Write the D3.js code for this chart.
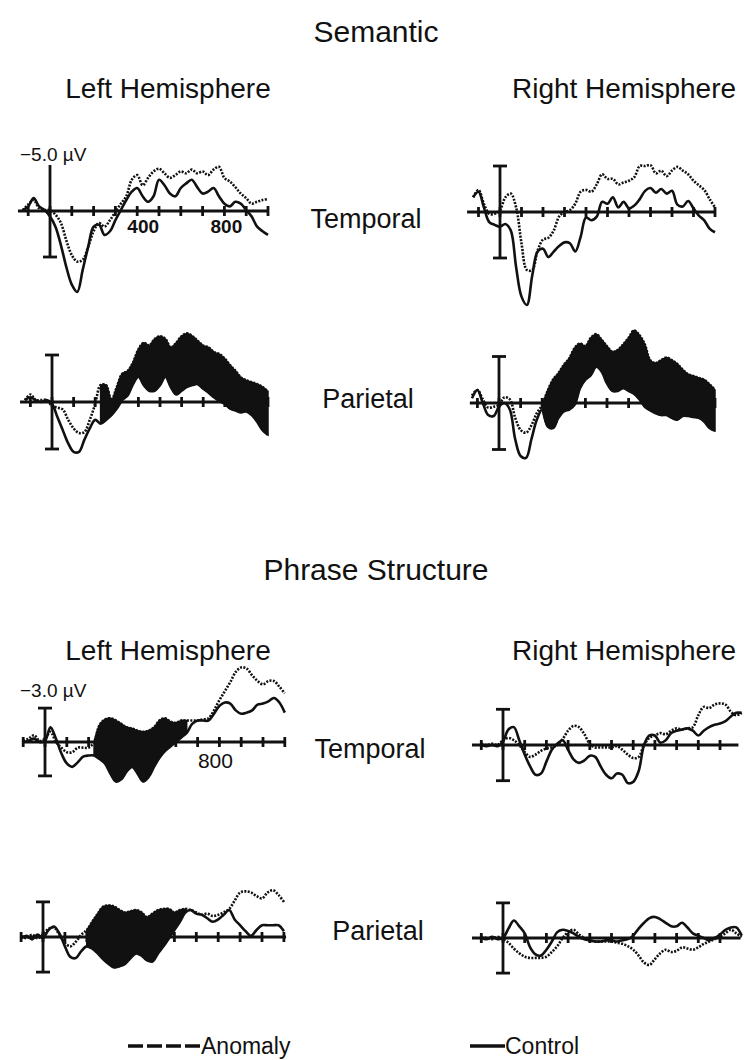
<!DOCTYPE html>
<html>
<head>
<meta charset="utf-8">
<script src="https://cdn.jsdelivr.net/npm/d3@7"></script>
<style>
  html, body { margin: 0; padding: 0; background: #fff; }
  svg { display: block; }
  text { font-family: "Liberation Sans Narrow", "Arial Narrow", "Liberation Sans", Arial, sans-serif; fill: #111; }
</style>
</head>
<body>
<svg id="chart" width="748" height="1060"></svg>
<script>
// Sample times (ms) for each experiment
const semTimes = [-125,-100,-75,-50,-25,0,25,50,75,100,125,150,175,200,225,250,275,300,325,350,375,400,425,450,475,500,525,550,575,600,625,650,675,700,725,750,775,800,825,850,875,900,925,950,975,1000];
const psTimes  = [-100,-75,-50,-25,0,25,50,75,100,125,150,175,200,225,250,275,300,325,350,375,400,425,450,475,500,525,550,575,600,625,650,675,700,725,750,775,800,825,850,875,900,925,950,975,1000,1025,1050,1075,1100];

// Semantic, left temporal (µV, negative plotted up)
const semLTempAnomaly = [-0.1,-0.7,-1.2,-0.3,-0.1,-0.1,0.4,1.3,3.2,4.8,5.5,5.3,3.9,2.2,1.3,1.7,1.0,0.1,-0.8,-1.6,-3.4,-3.9,-2.8,-3.6,-4.3,-4.6,-4.1,-3.6,-3.9,-4.3,-4.1,-4.5,-4.1,-4.3,-3.9,-4.5,-4.8,-3.6,-3.2,-2.6,-1.9,-1.4,-0.8,-1.0,-1.2,-1.3];
const semLTempControl = [-0.1,-0.5,-1.4,-0.5,-0.1,0.6,1.7,3.7,6.1,8.0,8.8,6.4,3.9,1.7,1.5,2.6,2.2,1.0,-0.1,-1.2,-2.1,-2.5,-1.6,-1.0,-1.6,-3.4,-2.8,-1.9,-1.6,-2.5,-3.0,-3.4,-2.6,-1.9,-2.1,-2.5,-1.6,-0.8,-0.5,-1.0,-0.8,-0.1,0.6,1.7,2.2,2.6];
// Semantic, right temporal
const semRTempAnomaly = [-1.6,-2.4,-0.9,0.2,0.2,-0.2,-1.6,-2.0,-0.5,3.4,6.3,6.3,4.2,3.0,2.8,2.0,0.5,0.0,-0.2,-0.9,-2.2,-2.4,-2.2,-3.0,-4.1,-3.6,-3.6,-3.0,-3.2,-3.4,-3.8,-5.0,-5.0,-5.1,-4.2,-4.5,-3.9,-4.5,-4.9,-4.5,-4.1,-3.4,-2.9,-2.4,-1.4,-0.5];
const semRTempControl = [-1.6,-2.2,-0.5,1.1,1.4,1.6,1.3,2.0,6.0,9.2,10.1,6.9,4.3,4.0,4.9,4.3,3.7,3.3,3.4,4.3,2.7,0.6,0.9,0.5,-1.1,-0.9,-1.6,-0.5,-1.1,-0.4,-0.7,-1.4,-2.3,-2.6,-2.1,-2.5,-2.0,-2.3,-0.8,-0.6,-1.2,-0.4,0.4,0.9,1.8,2.2];
// Semantic, left parietal
const semLParAnomaly = [-0.2,-0.8,-0.2,-0.2,-0.2,0.4,0.6,0.8,1.9,2.8,3.3,3.2,1.9,0.2,-1.8,-1.8,-0.2,-1.6,-3.0,-3.3,-4.2,-5.6,-6.3,-6.0,-6.7,-7.0,-6.7,-5.8,-6.3,-7.0,-7.3,-7.0,-6.5,-6.0,-5.8,-5.3,-5.1,-4.6,-3.9,-3.3,-2.6,-2.3,-2.1,-1.9,-1.6,-1.1];
const semLParControl = [-0.2,-0.5,-0.2,0.0,-0.2,0.2,1.6,3.0,4.4,5.3,5.3,4.0,2.8,1.9,2.3,1.9,1.4,0.7,-0.2,-0.7,-1.9,-2.7,-1.8,-1.2,-1.2,-1.8,-2.7,-1.6,-0.8,-1.2,-1.6,-1.8,-1.9,-1.4,-1.0,-0.5,-0.1,0.2,0.7,0.9,1.1,1.0,1.4,2.1,3.0,3.5];
// Semantic, right parietal
const semRParAnomaly = [-0.8,-1.4,-0.4,0.5,0.4,0.2,-0.6,-0.4,1.6,2.9,3.2,2.4,1.1,0.2,-1.3,-2.5,-3.2,-4.1,-4.8,-5.9,-6.4,-6.1,-7.0,-7.4,-6.8,-6.1,-5.5,-5.7,-6.3,-7.0,-7.8,-7.3,-6.3,-4.6,-4.3,-4.6,-4.9,-4.6,-4.2,-3.6,-3.1,-2.9,-2.7,-2.5,-2.0,-1.4];
const semRParControl = [-0.5,-1.4,0.0,1.3,1.4,0.4,0.0,0.7,3.9,5.7,5.9,3.9,1.8,0.7,2.5,2.7,1.6,0.9,0.7,0.2,-1.6,-2.5,-3.0,-3.9,-3.4,-2.1,-1.3,-1.3,-1.6,-1.3,-1.0,-0.4,0.4,0.8,1.1,1.3,1.3,1.6,1.8,1.4,1.4,1.5,1.6,2.0,2.7,3.0];

// Phrase structure, left temporal
const psLTempAnomaly = [-0.1,-0.3,-0.6,-0.1,-0.3,-0.9,0.0,0.5,0.9,0.9,0.5,0.5,0.5,0.0,-1.5,-2.0,-2.1,-1.9,-1.6,-1.3,-1.2,-1.0,-0.9,-1.0,-1.3,-1.9,-2.1,-1.8,-1.7,-1.9,-1.9,-1.9,-1.9,-2.0,-2.1,-2.8,-3.7,-4.5,-5.3,-6.2,-6.6,-6.5,-5.9,-5.4,-5.1,-5.4,-5.4,-4.9,-4.3];
const psLTempControl = [0.0,-0.1,-0.3,0.0,-0.1,-1.3,-0.3,1.0,1.9,2.2,1.8,1.3,1.2,1.2,1.5,1.9,2.8,3.5,3.3,2.6,2.2,2.8,3.5,3.1,2.2,1.4,0.8,0.4,0.0,-0.4,-0.8,-1.6,-1.9,-1.9,-1.9,-2.5,-3.2,-3.5,-3.4,-2.8,-2.5,-2.6,-2.8,-3.3,-3.4,-3.6,-3.9,-3.5,-2.6];
// Phrase structure, right temporal
const psRTempAnomaly = [-0.1,0.0,-0.1,0.0,-0.4,-0.6,-0.4,0.0,0.6,1.0,0.8,0.5,0.3,0.2,0.0,-0.5,-1.2,-1.6,-1.5,-0.9,-0.1,0.2,0.2,0.2,0.2,0.1,0.4,0.8,1.1,1.0,0.0,-0.6,-0.8,-1.0,-0.9,-1.2,-1.4,-1.3,-1.4,-1.5,-2.5,-3.2,-3.1,-3.4,-3.5,-3.4,-2.8,-2.5,-2.7];
const psRTempControl = [0.0,0.1,0.0,0.1,-0.3,-1.3,-1.5,-0.4,0.8,1.8,2.5,2.4,1.4,0.4,-0.1,-0.4,0.4,1.2,1.5,1.3,0.9,1.0,1.8,2.5,2.8,2.4,2.5,3.2,3.1,2.2,0.0,-0.8,-0.8,-0.2,-0.4,-1.0,-1.2,-1.3,-1.4,-1.2,-0.8,-1.2,-1.5,-1.7,-1.8,-2.0,-2.4,-2.7,-2.7];
// Phrase structure, left parietal
const psLParAnomaly = [-0.1,0.1,-0.2,0.1,-0.2,-0.7,-0.8,-0.2,0.5,0.8,0.4,-0.2,-0.6,-1.3,-2.0,-2.6,-2.7,-2.6,-2.3,-2.1,-2.2,-2.3,-2.1,-1.7,-2.0,-2.3,-2.4,-2.4,-2.1,-2.3,-2.4,-2.3,-2.1,-1.9,-2.0,-1.8,-1.9,-2.1,-2.4,-3.1,-3.8,-3.9,-3.8,-3.5,-3.3,-3.8,-4.0,-3.6,-3.0];
const psLParControl = [0.1,-0.1,0.2,-0.2,0.1,-0.6,-0.9,-0.3,0.8,1.7,1.8,1.2,0.8,1.0,1.4,1.9,2.3,2.6,2.5,2.3,1.8,1.4,1.6,2.0,2.1,1.4,0.8,0.1,-0.6,-1.3,-2.1,-2.3,-2.0,-1.9,-1.6,-1.3,-1.5,-1.9,-2.3,-1.5,-1.0,-0.5,-0.1,-0.6,-1.0,-1.0,-1.0,-1.0,-0.5];
// Phrase structure, right parietal
const psRParAnomaly = [-0.1,0.0,0.1,-0.1,0.1,0.4,0.9,1.3,1.6,1.7,1.7,1.7,1.6,1.2,0.7,0.0,-0.5,-0.7,-0.3,0.0,0.2,0.3,0.3,0.3,0.3,0.4,0.5,0.7,1.0,1.5,2.1,2.3,1.8,1.3,1.0,1.2,1.1,0.8,0.9,1.0,0.8,0.5,0.3,0.1,-0.1,-0.4,-0.7,-0.4,-0.1];
const psRParControl = [0.0,0.1,-0.1,0.1,0.0,-0.8,-1.5,-1.0,-0.4,0.8,1.4,1.5,1.0,0.3,-0.5,-0.7,-0.6,-0.4,-0.1,0.1,0.2,0.3,0.3,0.2,0.2,0.3,0.2,0.1,-0.2,-0.8,-1.3,-1.7,-1.8,-1.6,-1.3,-1.0,-1.0,-1.3,-0.9,-0.4,-0.2,0.0,0.2,0.0,-0.3,-0.7,-0.9,-0.9,-0.2];

// Time windows (ms) where the anomaly–control difference is shaded
const shadeSemLPar = [225, 1000];
const shadeSemRPar = [200, 1000];
const shadePsLTemp = [225, 650];
const shadePsLPar  = [200, 650];

// Panel layout: zero-time x, px per ms, axis y, px per µV, axis extent, scale-bar size
const panels = [
  { times: semTimes, anomaly: semLTempAnomaly, control: semLTempControl, x0: 50,  k: 0.218, y0: 211, ppu: 9.2,  t0: -147, t1: 1000, bar: 5, capTop: false },
  { times: semTimes, anomaly: semRTempAnomaly, control: semRTempControl, x0: 500, k: 0.215, y0: 212, ppu: 9.2,  t0: -153, t1: 1000, bar: 5 },
  { times: semTimes, anomaly: semLParAnomaly,  control: semLParControl,  x0: 52,  k: 0.216, y0: 402, ppu: 9.4,  t0: -148, t1: 1000, bar: 5, shade: shadeSemLPar },
  { times: semTimes, anomaly: semRParAnomaly,  control: semRParControl,  x0: 499, k: 0.216, y0: 403, ppu: 9.3,  t0: -135, t1: 1000, bar: 5, shade: shadeSemRPar },
  { times: psTimes,  anomaly: psLTempAnomaly,  control: psLTempControl,  x0: 45,  k: 0.218, y0: 742, ppu: 11.3, t0: -105, t1: 1100, bar: 3, shade: shadePsLTemp },
  { times: psTimes,  anomaly: psRTempAnomaly,  control: psRTempControl,  x0: 503, k: 0.217, y0: 745, ppu: 11.9, t0: -143, t1: 1085, bar: 3 },
  { times: psTimes,  anomaly: psLParAnomaly,   control: psLParControl,   x0: 43,  k: 0.219, y0: 937, ppu: 11.7, t0: -96,  t1: 1110, bar: 3, shade: shadePsLPar },
  { times: psTimes,  anomaly: psRParAnomaly,   control: psRParControl,   x0: 503, k: 0.217, y0: 938, ppu: 11.7, t0: -143, t1: 1095, bar: 3 }
];

const svg = d3.select("#chart");
const ink = "#111";

panels.forEach(p => {
  const x = d3.scaleLinear().domain([0, 1000]).range([p.x0, p.x0 + 1000 * p.k]);
  const y = d3.scaleLinear().domain([-p.bar, p.bar]).range([p.y0 - p.bar * p.ppu, p.y0 + p.bar * p.ppu]);
  const g = svg.append("g");
  const rows = p.times.map((t, i) => ({ t, a: p.anomaly[i], c: p.control[i] }));

  // shaded difference between conditions
  if (p.shade) {
    const area = d3.area()
      .defined(d => d.t >= p.shade[0] && d.t <= p.shade[1])
      .x(d => x(d.t)).y0(d => y(d.a)).y1(d => y(d.c))
      .curve(d3.curveCatmullRom);
    g.append("path").datum(rows).attr("d", area).attr("fill", ink).attr("stroke", ink).attr("stroke-width", 1.5);
  }

  // time axis with crossing ticks every 100 ms
  g.append("line").attr("x1", x(p.t0)).attr("x2", x(p.t1)).attr("y1", p.y0).attr("y2", p.y0)
    .attr("stroke", ink).attr("stroke-width", 2.8);
  const tickVals = d3.range(-100, p.t1 + 1, 100);
  g.selectAll(".tick").data(tickVals).join("line")
    .attr("x1", d => x(d)).attr("x2", d => x(d))
    .attr("y1", p.y0 - 5).attr("y2", p.y0 + 5)
    .attr("stroke", ink).attr("stroke-width", 2.8);

  // voltage scale bar
  const yTop = y(-p.bar), yBot = y(p.bar);
  g.append("line").attr("x1", x(0)).attr("x2", x(0)).attr("y1", yTop).attr("y2", yBot)
    .attr("stroke", ink).attr("stroke-width", 2.8);
  const caps = p.capTop === false ? [yBot] : [yTop, yBot];
  caps.forEach(yy => g.append("line").attr("x1", x(0) - 7).attr("x2", x(0) + 7)
    .attr("y1", yy).attr("y2", yy).attr("stroke", ink).attr("stroke-width", 2.8));

  const line = key => d3.line().x(d => x(d.t)).y(d => y(d[key])).curve(d3.curveCatmullRom);
  g.append("path").datum(rows).attr("d", line("c")).attr("fill", "none")
    .attr("stroke", ink).attr("stroke-width", 2.6).attr("stroke-linejoin", "round");
  g.append("path").datum(rows).attr("d", line("a")).attr("fill", "none")
    .attr("stroke", ink).attr("stroke-width", 2.6).attr("stroke-dasharray", "2 1.4");

  p.xs = x;
});

// text labels
const label = (txt, xx, yy, size, anchor = "middle", weight = "normal") =>
  svg.append("text").attr("x", xx).attr("y", yy).attr("font-size", size)
    .attr("text-anchor", anchor).attr("font-weight", weight).text(txt);

label("Semantic", 376, 42, 30);
label("Left Hemisphere", 168, 98, 28);
label("Right Hemisphere", 624, 98, 28);
label("Temporal", 366, 228, 27);
label("Parietal", 368, 408, 27);
label("Phrase Structure", 376, 580, 30);
label("Left Hemisphere", 168, 660, 28);
label("Right Hemisphere", 624, 660, 28);
label("Temporal", 370, 758, 27);
label("Parietal", 378, 940, 27);

label("\u22125.0 \u00b5V", 20, 161, 19, "start");
label("\u22123.0 \u00b5V", 20, 697, 19, "start");
label("400", panels[0].xs(400) + 6, 233, 19, "middle", "bold");
label("800", panels[0].xs(800) + 2, 233, 19, "middle", "bold");
label("800", panels[4].xs(800) - 4, 768, 21, "middle");

// legend
svg.append("line").attr("x1", 128).attr("x2", 200).attr("y1", 1046).attr("y2", 1046)
  .attr("stroke", ink).attr("stroke-width", 3.5).attr("stroke-dasharray", "15 4");
label("Anomaly", 201, 1054, 23, "start");
svg.append("line").attr("x1", 470).attr("x2", 505).attr("y1", 1046).attr("y2", 1046)
  .attr("stroke", ink).attr("stroke-width", 3.5);
label("Control", 505, 1054, 23, "start");
</script>
</body>
</html>
